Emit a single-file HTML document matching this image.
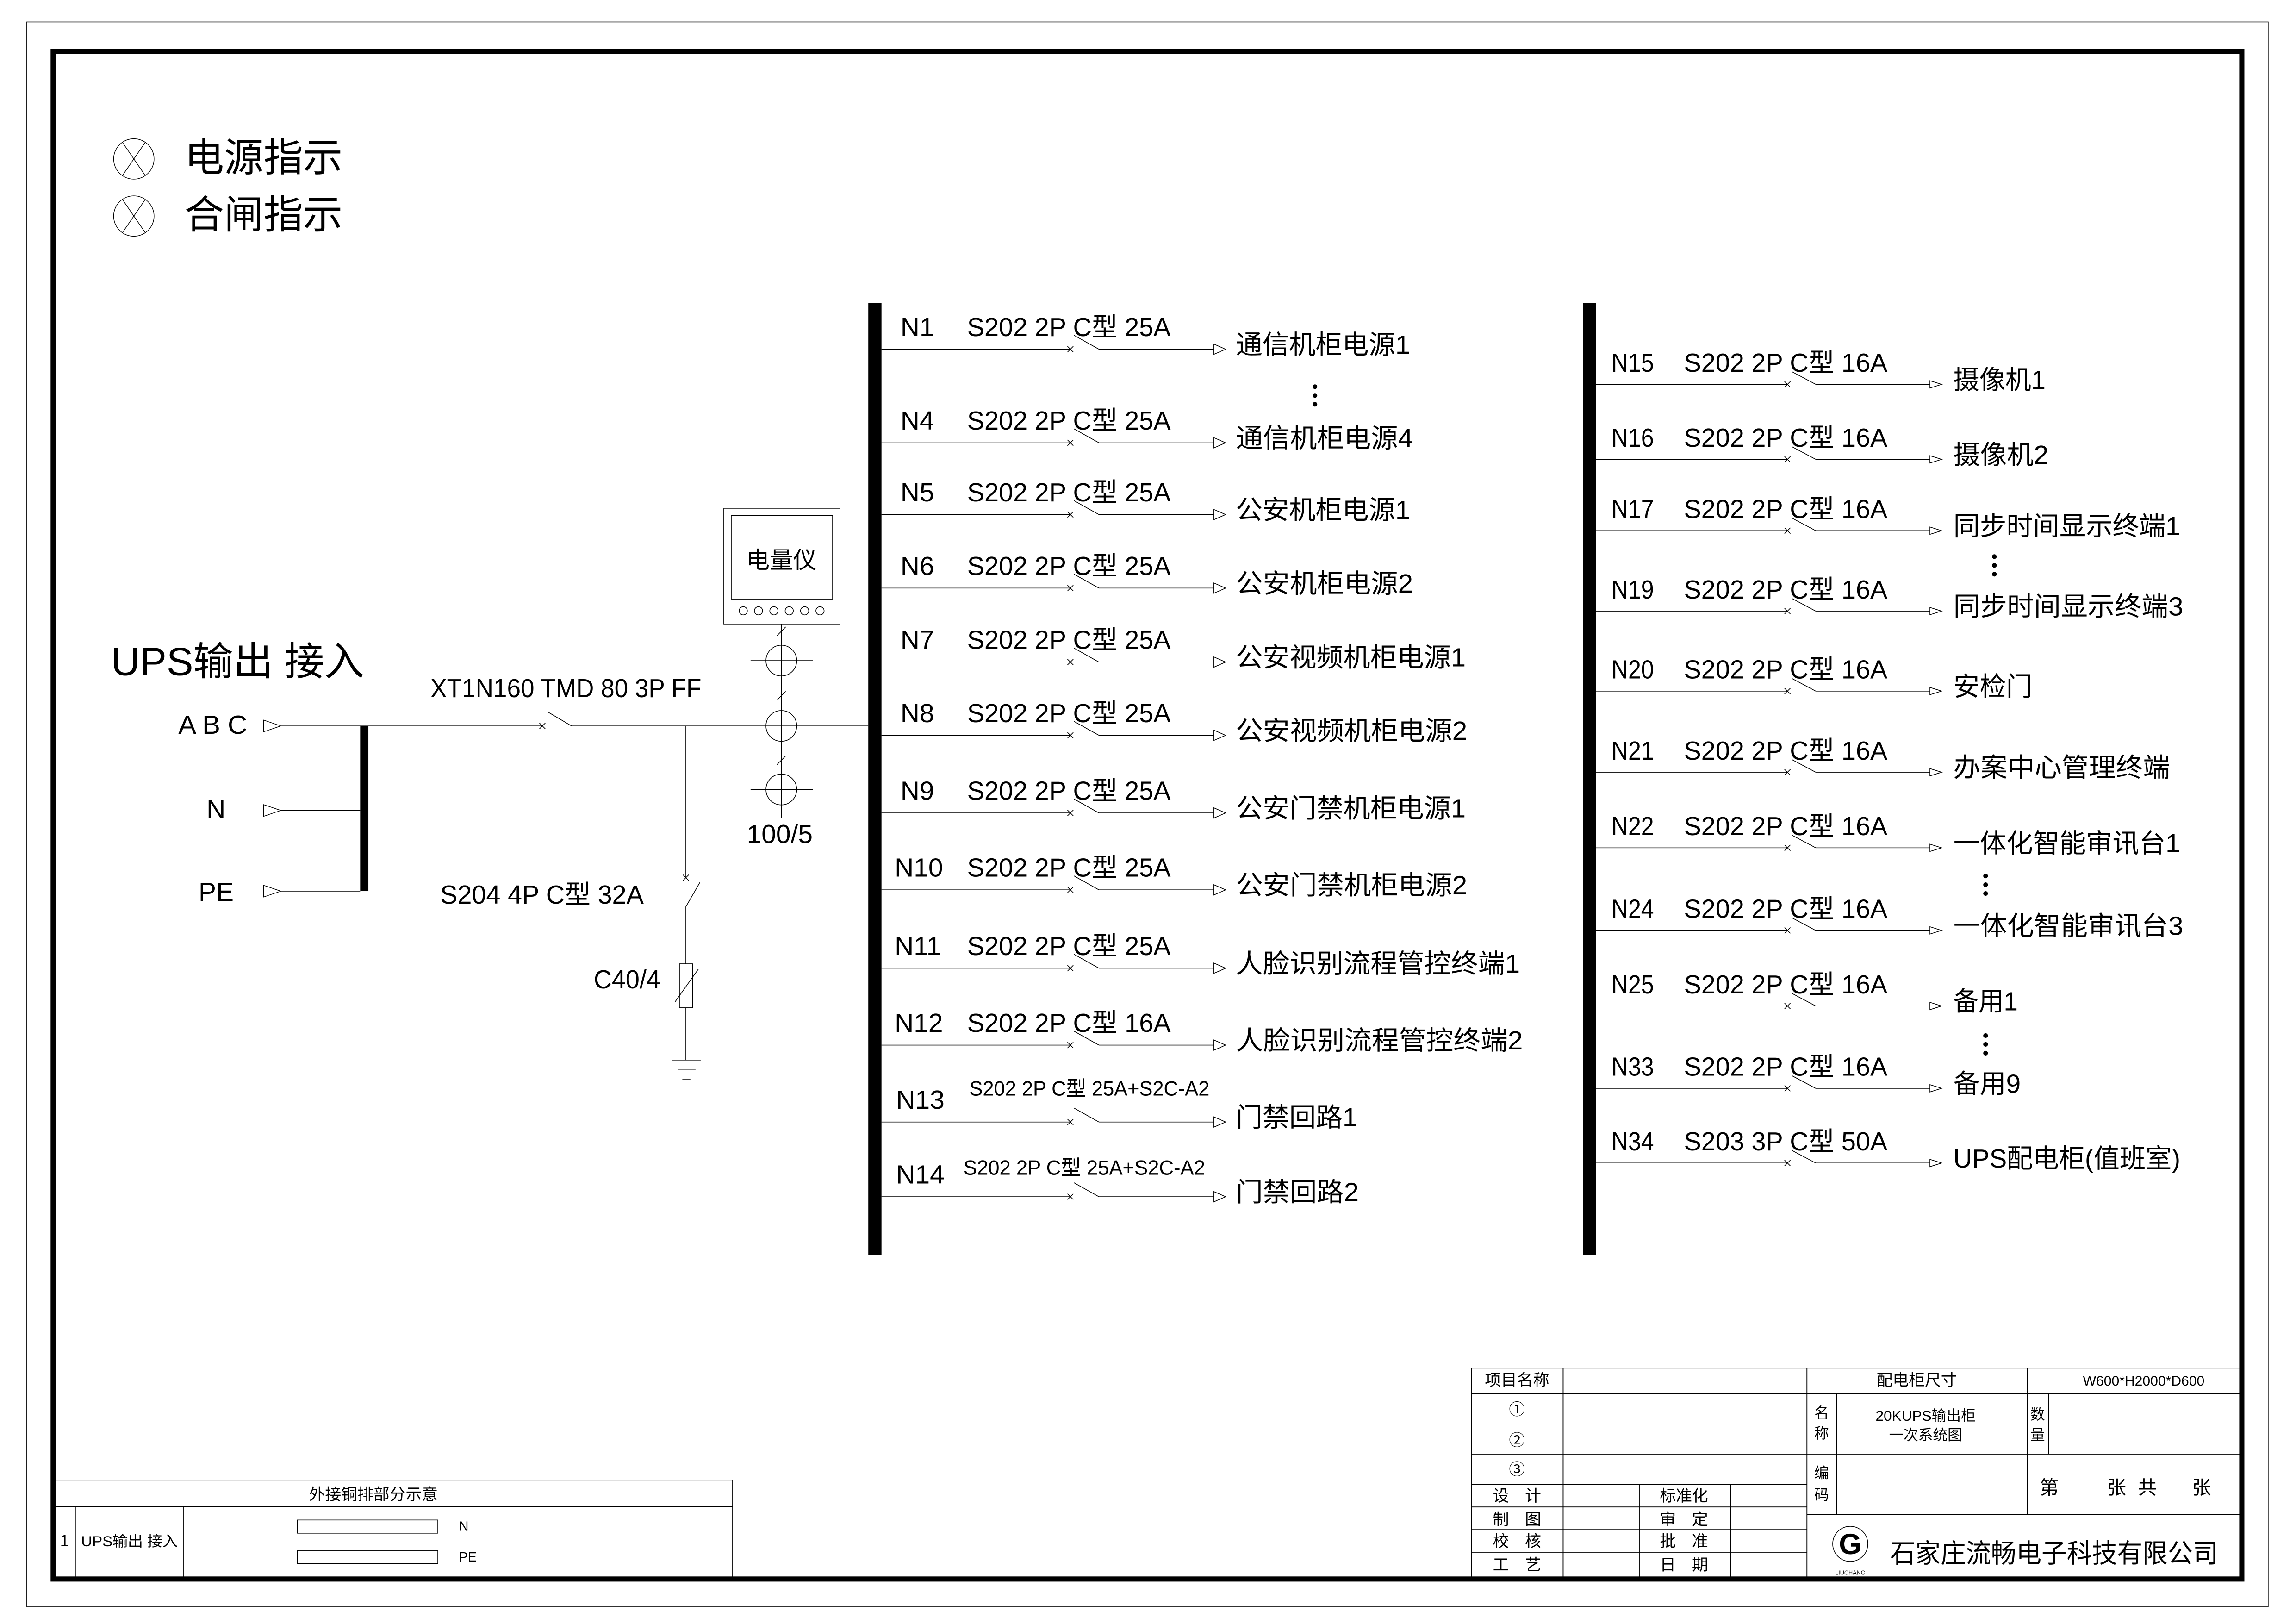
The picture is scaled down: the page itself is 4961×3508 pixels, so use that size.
<!DOCTYPE html>
<html><head><meta charset="utf-8"><style>
html,body{margin:0;padding:0;background:#fff;}
svg{display:block;}
text{font-family:"Liberation Sans","Noto Sans CJK SC",sans-serif;fill:#000;}
.l{font-size:18px;}
.lc{font-size:18px;}
.r{font-size:18px;}
.s{font-size:11px;}
</style></head><body>
<svg width="4961" height="3508" viewBox="0 0 1568 1108.7" preserveAspectRatio="none" xmlns="http://www.w3.org/2000/svg">
<rect width="1568" height="1109" fill="#fff"/>
<g fill="none" stroke="#000">
<rect x="18.3" y="15" width="1530.7" height="1082" stroke-width="0.5"/>
<rect x="36.3" y="35" width="1494.7" height="1043" stroke-width="3.5"/>
</g>
<g fill="none" stroke="#000" stroke-width="0.45">
<circle cx="91.4" cy="108.5" r="13.8"/><path d="M83.5 97 L99.3 120 M99.3 97 L83.5 120"/>
<circle cx="91.4" cy="147.5" r="13.8"/><path d="M83.5 136 L99.3 159 M99.3 136 L83.5 159"/>
</g>
<text x="126" y="117" style="font-size:27px">电源指示</text>
<text x="126" y="156" style="font-size:27px">合闸指示</text>

<rect x="593" y="207" width="9" height="650" fill="#000"/>
<rect x="1081" y="207" width="9" height="650" fill="#000"/>
<rect x="246" y="495.6" width="5.6" height="112.8" fill="#000"/>

<text x="75.8" y="461" style="font-size:27px" textLength="173" lengthAdjust="spacingAndGlyphs">UPS输出 接入</text>
<g fill="#fff" stroke="#000" stroke-width="0.45">
<path d="M180 491.6 L191.8 495.6 L180 499.6 Z"/>
<path d="M180 549.3 L191.8 553.3 L180 557.3 Z"/>
<path d="M180 604.4 L191.8 608.4 L180 612.4 Z"/>
</g>
<g fill="none" stroke="#000" stroke-width="0.5">
<path d="M191.8 495.6 L370.4 495.6 M368.4 493.6 L372.4 497.6 M372.4 493.6 L368.4 497.6 M374 486 L390.3 495.6 L593 495.6"/>
<path d="M191.8 553.3 L246 553.3 M191.8 608.4 L246 608.4"/>
<path d="M468.4 495.6 L468.4 599.2 M466.4 597.2 L470.4 601.2 M470.4 597.2 L466.4 601.2 M478 602.4 L468.4 619 L468.4 658 M468.4 688 L468.4 723.7"/>
<rect x="464" y="658" width="9" height="30"/>
<path d="M461 684 L477 661.5"/>
<path d="M459 723.7 L478.5 723.7 M463 730 L475 730 M466 736.7 L471.5 736.7"/>
<path d="M533.6 426 L533.6 558.5"/>
<circle cx="533.6" cy="451" r="10.5"/><circle cx="533.6" cy="495.6" r="10.5"/><circle cx="533.6" cy="539" r="10.5"/>
<path d="M512.6 451 L555.3 451 M512.6 539 L555.3 539"/>
<path d="M530.6 434 L536.6 428 M530.6 478 L536.6 472 M530.6 522 L536.6 516"/>
<rect x="494.3" y="347" width="79.3" height="79"/>
<rect x="499.4" y="352" width="69.2" height="57"/>
<circle cx="507.6" cy="417" r="2.8"/><circle cx="518" cy="417" r="2.8"/><circle cx="528.5" cy="417" r="2.8"/><circle cx="539" cy="417" r="2.8"/><circle cx="549.5" cy="417" r="2.8"/><circle cx="560" cy="417" r="2.8"/>
</g>
<text x="533.6" y="388" text-anchor="middle" style="font-size:16px">电量仪</text>
<text x="121.8" y="501" class="l" textLength="47" lengthAdjust="spacingAndGlyphs">A B C</text>
<text x="141" y="558.6" class="l">N</text>
<text x="135.6" y="615" class="l">PE</text>
<text x="294" y="476" class="l" textLength="185" lengthAdjust="spacingAndGlyphs">XT1N160 TMD 80 3P FF</text>
<text x="300.6" y="617" class="l" textLength="139" lengthAdjust="spacingAndGlyphs">S204 4P C型 32A</text>
<text x="405.5" y="674.7" class="l" textLength="45.5" lengthAdjust="spacingAndGlyphs">C40/4</text>
<text x="510" y="575.5" class="l" textLength="45" lengthAdjust="spacingAndGlyphs">100/5</text>

<g>
<g transform="translate(0,238.4)"><g fill="none" stroke="#000" stroke-width="0.5"><path d="M602 0 L731 0 M729 -2 L733 2 M729 2 L733 -2 M733.5 -9.5 L750.5 0 L829 0"/><path d="M829 -3.5 L837 0 L829 3.5 Z" fill="#fff"/></g>
<text x="615" y="-9" class="l">N1</text><text x="660.5" y="-9" class="l" textLength="139" lengthAdjust="spacingAndGlyphs">S202 2P C型 25A</text><text x="844" y="3" class="lc" textLength="119" lengthAdjust="spacingAndGlyphs">通信机柜电源1</text></g>
<g transform="translate(0,302.3)"><g fill="none" stroke="#000" stroke-width="0.5"><path d="M602 0 L731 0 M729 -2 L733 2 M729 2 L733 -2 M733.5 -9.5 L750.5 0 L829 0"/><path d="M829 -3.5 L837 0 L829 3.5 Z" fill="#fff"/></g>
<text x="615" y="-9" class="l">N4</text><text x="660.5" y="-9" class="l" textLength="139" lengthAdjust="spacingAndGlyphs">S202 2P C型 25A</text><text x="844" y="3" class="lc" textLength="121" lengthAdjust="spacingAndGlyphs">通信机柜电源4</text></g>
<g transform="translate(0,351.3)"><g fill="none" stroke="#000" stroke-width="0.5"><path d="M602 0 L731 0 M729 -2 L733 2 M729 2 L733 -2 M733.5 -9.5 L750.5 0 L829 0"/><path d="M829 -3.5 L837 0 L829 3.5 Z" fill="#fff"/></g>
<text x="615" y="-9" class="l">N5</text><text x="660.5" y="-9" class="l" textLength="139" lengthAdjust="spacingAndGlyphs">S202 2P C型 25A</text><text x="844" y="3" class="lc" textLength="119" lengthAdjust="spacingAndGlyphs">公安机柜电源1</text></g>
<g transform="translate(0,401.5)"><g fill="none" stroke="#000" stroke-width="0.5"><path d="M602 0 L731 0 M729 -2 L733 2 M729 2 L733 -2 M733.5 -9.5 L750.5 0 L829 0"/><path d="M829 -3.5 L837 0 L829 3.5 Z" fill="#fff"/></g>
<text x="615" y="-9" class="l">N6</text><text x="660.5" y="-9" class="l" textLength="139" lengthAdjust="spacingAndGlyphs">S202 2P C型 25A</text><text x="844" y="3" class="lc" textLength="121" lengthAdjust="spacingAndGlyphs">公安机柜电源2</text></g>
<g transform="translate(0,452)"><g fill="none" stroke="#000" stroke-width="0.5"><path d="M602 0 L731 0 M729 -2 L733 2 M729 2 L733 -2 M733.5 -9.5 L750.5 0 L829 0"/><path d="M829 -3.5 L837 0 L829 3.5 Z" fill="#fff"/></g>
<text x="615" y="-9" class="l">N7</text><text x="660.5" y="-9" class="l" textLength="139" lengthAdjust="spacingAndGlyphs">S202 2P C型 25A</text><text x="844" y="3" class="lc" textLength="157" lengthAdjust="spacingAndGlyphs">公安视频机柜电源1</text></g>
<g transform="translate(0,502)"><g fill="none" stroke="#000" stroke-width="0.5"><path d="M602 0 L731 0 M729 -2 L733 2 M729 2 L733 -2 M733.5 -9.5 L750.5 0 L829 0"/><path d="M829 -3.5 L837 0 L829 3.5 Z" fill="#fff"/></g>
<text x="615" y="-9" class="l">N8</text><text x="660.5" y="-9" class="l" textLength="139" lengthAdjust="spacingAndGlyphs">S202 2P C型 25A</text><text x="844" y="3" class="lc" textLength="158" lengthAdjust="spacingAndGlyphs">公安视频机柜电源2</text></g>
<g transform="translate(0,555)"><g fill="none" stroke="#000" stroke-width="0.5"><path d="M602 0 L731 0 M729 -2 L733 2 M729 2 L733 -2 M733.5 -9.5 L750.5 0 L829 0"/><path d="M829 -3.5 L837 0 L829 3.5 Z" fill="#fff"/></g>
<text x="615" y="-9" class="l">N9</text><text x="660.5" y="-9" class="l" textLength="139" lengthAdjust="spacingAndGlyphs">S202 2P C型 25A</text><text x="844" y="3" class="lc" textLength="157" lengthAdjust="spacingAndGlyphs">公安门禁机柜电源1</text></g>
<g transform="translate(0,607.5)"><g fill="none" stroke="#000" stroke-width="0.5"><path d="M602 0 L731 0 M729 -2 L733 2 M729 2 L733 -2 M733.5 -9.5 L750.5 0 L829 0"/><path d="M829 -3.5 L837 0 L829 3.5 Z" fill="#fff"/></g>
<text x="611" y="-9" class="l">N10</text><text x="660.5" y="-9" class="l" textLength="139" lengthAdjust="spacingAndGlyphs">S202 2P C型 25A</text><text x="844" y="3" class="lc" textLength="158" lengthAdjust="spacingAndGlyphs">公安门禁机柜电源2</text></g>
<g transform="translate(0,661)"><g fill="none" stroke="#000" stroke-width="0.5"><path d="M602 0 L731 0 M729 -2 L733 2 M729 2 L733 -2 M733.5 -9.5 L750.5 0 L829 0"/><path d="M829 -3.5 L837 0 L829 3.5 Z" fill="#fff"/></g>
<text x="611" y="-9" class="l">N11</text><text x="660.5" y="-9" class="l" textLength="139" lengthAdjust="spacingAndGlyphs">S202 2P C型 25A</text><text x="844" y="3" class="lc" textLength="194" lengthAdjust="spacingAndGlyphs">人脸识别流程管控终端1</text></g>
<g transform="translate(0,713.5)"><g fill="none" stroke="#000" stroke-width="0.5"><path d="M602 0 L731 0 M729 -2 L733 2 M729 2 L733 -2 M733.5 -9.5 L750.5 0 L829 0"/><path d="M829 -3.5 L837 0 L829 3.5 Z" fill="#fff"/></g>
<text x="611" y="-9" class="l">N12</text><text x="660.5" y="-9" class="l" textLength="139" lengthAdjust="spacingAndGlyphs">S202 2P C型 16A</text><text x="844" y="3" class="lc" textLength="196" lengthAdjust="spacingAndGlyphs">人脸识别流程管控终端2</text></g>
<g transform="translate(0,766)"><g fill="none" stroke="#000" stroke-width="0.5"><path d="M602 0 L731 0 M729 -2 L733 2 M729 2 L733 -2 M733.5 -9.5 L750.5 0 L829 0"/><path d="M829 -3.5 L837 0 L829 3.5 Z" fill="#fff"/></g>
<text x="612" y="-9" class="l">N13</text><text x="662" y="-18" style="font-size:14px" textLength="164" lengthAdjust="spacingAndGlyphs">S202 2P C型 25A+S2C-A2</text><text x="844" y="3" class="lc" textLength="83" lengthAdjust="spacingAndGlyphs">门禁回路1</text></g>
<g transform="translate(0,817)"><g fill="none" stroke="#000" stroke-width="0.5"><path d="M602 0 L731 0 M729 -2 L733 2 M729 2 L733 -2 M733.5 -9.5 L750.5 0 L829 0"/><path d="M829 -3.5 L837 0 L829 3.5 Z" fill="#fff"/></g>
<text x="612" y="-9" class="l">N14</text><text x="658" y="-15" style="font-size:14px" textLength="165" lengthAdjust="spacingAndGlyphs">S202 2P C型 25A+S2C-A2</text><text x="844" y="3" class="lc" textLength="84" lengthAdjust="spacingAndGlyphs">门禁回路2</text></g>
</g>

<g fill="#000">
<circle cx="898" cy="264" r="1.6"/><circle cx="898" cy="270" r="1.6"/><circle cx="898" cy="276" r="1.6"/>
<circle cx="1362" cy="380" r="1.6"/><circle cx="1362" cy="386" r="1.6"/><circle cx="1362" cy="392" r="1.6"/>
<circle cx="1356" cy="598" r="1.6"/><circle cx="1356" cy="604" r="1.6"/><circle cx="1356" cy="610" r="1.6"/>
<circle cx="1356" cy="707" r="1.6"/><circle cx="1356" cy="713" r="1.6"/><circle cx="1356" cy="719" r="1.6"/>
</g>

<g>
<g transform="translate(0,262.4)"><g fill="none" stroke="#000" stroke-width="0.5"><path d="M1090 0 L1220.7 0 M1218.7 -2 L1222.7 2 M1218.7 2 L1222.7 -2 M1224 -8.5 L1240 0 L1318 0"/><path d="M1318 -2.5 L1326 0 L1318 2.5 Z" fill="#fff"/></g>
<text x="1100.5" y="-8.6" class="r" textLength="29" lengthAdjust="spacingAndGlyphs">N15</text><text x="1150" y="-8.6" class="r" textLength="139" lengthAdjust="spacingAndGlyphs">S202 2P C型 16A</text><text x="1334" y="3" class="r" textLength="63" lengthAdjust="spacingAndGlyphs">摄像机1</text></g>
<g transform="translate(0,313.6)"><g fill="none" stroke="#000" stroke-width="0.5"><path d="M1090 0 L1220.7 0 M1218.7 -2 L1222.7 2 M1218.7 2 L1222.7 -2 M1224 -8.5 L1240 0 L1318 0"/><path d="M1318 -2.5 L1326 0 L1318 2.5 Z" fill="#fff"/></g>
<text x="1100.5" y="-8.6" class="r" textLength="29" lengthAdjust="spacingAndGlyphs">N16</text><text x="1150" y="-8.6" class="r" textLength="139" lengthAdjust="spacingAndGlyphs">S202 2P C型 16A</text><text x="1334" y="3" class="r" textLength="65" lengthAdjust="spacingAndGlyphs">摄像机2</text></g>
<g transform="translate(0,362.3)"><g fill="none" stroke="#000" stroke-width="0.5"><path d="M1090 0 L1220.7 0 M1218.7 -2 L1222.7 2 M1218.7 2 L1222.7 -2 M1224 -8.5 L1240 0 L1318 0"/><path d="M1318 -2.5 L1326 0 L1318 2.5 Z" fill="#fff"/></g>
<text x="1100.5" y="-8.6" class="r" textLength="29" lengthAdjust="spacingAndGlyphs">N17</text><text x="1150" y="-8.6" class="r" textLength="139" lengthAdjust="spacingAndGlyphs">S202 2P C型 16A</text><text x="1334" y="3" class="r" textLength="155" lengthAdjust="spacingAndGlyphs">同步时间显示终端1</text></g>
<g transform="translate(0,417.2)"><g fill="none" stroke="#000" stroke-width="0.5"><path d="M1090 0 L1220.7 0 M1218.7 -2 L1222.7 2 M1218.7 2 L1222.7 -2 M1224 -8.5 L1240 0 L1318 0"/><path d="M1318 -2.5 L1326 0 L1318 2.5 Z" fill="#fff"/></g>
<text x="1100.5" y="-8.6" class="r" textLength="29" lengthAdjust="spacingAndGlyphs">N19</text><text x="1150" y="-8.6" class="r" textLength="139" lengthAdjust="spacingAndGlyphs">S202 2P C型 16A</text><text x="1334" y="3" class="r" textLength="157" lengthAdjust="spacingAndGlyphs">同步时间显示终端3</text></g>
<g transform="translate(0,471.8)"><g fill="none" stroke="#000" stroke-width="0.5"><path d="M1090 0 L1220.7 0 M1218.7 -2 L1222.7 2 M1218.7 2 L1222.7 -2 M1224 -8.5 L1240 0 L1318 0"/><path d="M1318 -2.5 L1326 0 L1318 2.5 Z" fill="#fff"/></g>
<text x="1100.5" y="-8.6" class="r" textLength="29" lengthAdjust="spacingAndGlyphs">N20</text><text x="1150" y="-8.6" class="r" textLength="139" lengthAdjust="spacingAndGlyphs">S202 2P C型 16A</text><text x="1334" y="3" class="r" textLength="54" lengthAdjust="spacingAndGlyphs">安检门</text></g>
<g transform="translate(0,527.2)"><g fill="none" stroke="#000" stroke-width="0.5"><path d="M1090 0 L1220.7 0 M1218.7 -2 L1222.7 2 M1218.7 2 L1222.7 -2 M1224 -8.5 L1240 0 L1318 0"/><path d="M1318 -2.5 L1326 0 L1318 2.5 Z" fill="#fff"/></g>
<text x="1100.5" y="-8.6" class="r" textLength="29" lengthAdjust="spacingAndGlyphs">N21</text><text x="1150" y="-8.6" class="r" textLength="139" lengthAdjust="spacingAndGlyphs">S202 2P C型 16A</text><text x="1334" y="3" class="r" textLength="148" lengthAdjust="spacingAndGlyphs">办案中心管理终端</text></g>
<g transform="translate(0,578.8)"><g fill="none" stroke="#000" stroke-width="0.5"><path d="M1090 0 L1220.7 0 M1218.7 -2 L1222.7 2 M1218.7 2 L1222.7 -2 M1224 -8.5 L1240 0 L1318 0"/><path d="M1318 -2.5 L1326 0 L1318 2.5 Z" fill="#fff"/></g>
<text x="1100.5" y="-8.6" class="r" textLength="29" lengthAdjust="spacingAndGlyphs">N22</text><text x="1150" y="-8.6" class="r" textLength="139" lengthAdjust="spacingAndGlyphs">S202 2P C型 16A</text><text x="1334" y="3" class="r" textLength="155" lengthAdjust="spacingAndGlyphs">一体化智能审讯台1</text></g>
<g transform="translate(0,635.2)"><g fill="none" stroke="#000" stroke-width="0.5"><path d="M1090 0 L1220.7 0 M1218.7 -2 L1222.7 2 M1218.7 2 L1222.7 -2 M1224 -8.5 L1240 0 L1318 0"/><path d="M1318 -2.5 L1326 0 L1318 2.5 Z" fill="#fff"/></g>
<text x="1100.5" y="-8.6" class="r" textLength="29" lengthAdjust="spacingAndGlyphs">N24</text><text x="1150" y="-8.6" class="r" textLength="139" lengthAdjust="spacingAndGlyphs">S202 2P C型 16A</text><text x="1334" y="3" class="r" textLength="157" lengthAdjust="spacingAndGlyphs">一体化智能审讯台3</text></g>
<g transform="translate(0,686.8)"><g fill="none" stroke="#000" stroke-width="0.5"><path d="M1090 0 L1220.7 0 M1218.7 -2 L1222.7 2 M1218.7 2 L1222.7 -2 M1224 -8.5 L1240 0 L1318 0"/><path d="M1318 -2.5 L1326 0 L1318 2.5 Z" fill="#fff"/></g>
<text x="1100.5" y="-8.6" class="r" textLength="29" lengthAdjust="spacingAndGlyphs">N25</text><text x="1150" y="-8.6" class="r" textLength="139" lengthAdjust="spacingAndGlyphs">S202 2P C型 16A</text><text x="1334" y="3" class="r" textLength="44" lengthAdjust="spacingAndGlyphs">备用1</text></g>
<g transform="translate(0,743)"><g fill="none" stroke="#000" stroke-width="0.5"><path d="M1090 0 L1220.7 0 M1218.7 -2 L1222.7 2 M1218.7 2 L1222.7 -2 M1224 -8.5 L1240 0 L1318 0"/><path d="M1318 -2.5 L1326 0 L1318 2.5 Z" fill="#fff"/></g>
<text x="1100.5" y="-8.6" class="r" textLength="29" lengthAdjust="spacingAndGlyphs">N33</text><text x="1150" y="-8.6" class="r" textLength="139" lengthAdjust="spacingAndGlyphs">S202 2P C型 16A</text><text x="1334" y="3" class="r" textLength="46" lengthAdjust="spacingAndGlyphs">备用9</text></g>
<g transform="translate(0,794)"><g fill="none" stroke="#000" stroke-width="0.5"><path d="M1090 0 L1220.7 0 M1218.7 -2 L1222.7 2 M1218.7 2 L1222.7 -2 M1224 -8.5 L1240 0 L1318 0"/><path d="M1318 -2.5 L1326 0 L1318 2.5 Z" fill="#fff"/></g>
<text x="1100.5" y="-8.6" class="r" textLength="29" lengthAdjust="spacingAndGlyphs">N34</text><text x="1150" y="-8.6" class="r" textLength="139" lengthAdjust="spacingAndGlyphs">S203 3P C型 50A</text><text x="1334" y="3" class="r" textLength="155" lengthAdjust="spacingAndGlyphs">UPS配电柜(值班室)</text></g>
</g>

<g fill="none" stroke="#000" stroke-width="0.5">
<path d="M36 1010.5 L500.3 1010.5 L500.3 1078 M36 1028.5 L500.3 1028.5 M51.5 1028.5 L51.5 1078 M125.2 1028.5 L125.2 1078"/>
<rect x="203" y="1037.7" width="96" height="9"/>
<rect x="203" y="1058.5" width="96" height="9"/>
</g>
<text x="255" y="1024" class="s" text-anchor="middle">外接铜排部分示意</text>
<text x="41" y="1055.6" class="s">1</text>
<text x="55.4" y="1055.6" style="font-size:10px" textLength="66" lengthAdjust="spacingAndGlyphs">UPS输出 接入</text>
<text x="313.5" y="1045" style="font-size:9px">N</text>
<text x="313.5" y="1066" style="font-size:9px">PE</text>

<g fill="none" stroke="#000" stroke-width="0.6">
<path d="M1005 934 L1531 934 M1005 934 L1005 1078"/>
<path d="M1005 951.6 L1531 951.6 M1005 972.2 L1234 972.2 M1005 992.7 L1531 992.7 M1005 1013.3 L1234 1013.3 M1005 1028.8 L1234 1028.8 M1005 1044.3 L1234 1044.3 M1005 1059.7 L1234 1059.7 M1234 1034 L1531 1034"/>
<path d="M1067.5 934 L1067.5 1078 M1119.5 1013.3 L1119.5 1078 M1182 1013.3 L1182 1078 M1234 934 L1234 1078 M1254.4 951.6 L1254.4 1034 M1384.6 934 L1384.6 1034 M1399.2 951.6 L1399.2 992.7"/>
</g>
<g style="font-size:11px" text-anchor="middle">
<text x="1036" y="946">项目名称</text>
<text x="1309" y="946">配电柜尺寸</text>
<text x="1464" y="946" style="font-size:9.5px" textLength="83" lengthAdjust="spacingAndGlyphs">W600*H2000*D600</text>
<text x="1036" y="966">①</text>
<text x="1036" y="987">②</text>
<text x="1036" y="1007">③</text>
<text x="1036" y="1025">设　计</text>
<text x="1036" y="1041">制　图</text>
<text x="1036" y="1056">校　核</text>
<text x="1036" y="1072">工　艺</text>
<text x="1150" y="1025">标准化</text>
<text x="1150" y="1041">审　定</text>
<text x="1150" y="1056">批　准</text>
<text x="1150" y="1072">日　期</text>
<text x="1244" y="968" style="font-size:10px">名</text>
<text x="1244" y="982" style="font-size:10px">称</text>
<text x="1391.6" y="969" style="font-size:10px">数</text>
<text x="1391.6" y="983" style="font-size:10px">量</text>
<text x="1244" y="1009" style="font-size:10px">编</text>
<text x="1244" y="1024" style="font-size:10px">码</text>
<text x="1315" y="970" style="font-size:10px">20KUPS输出柜</text>
<text x="1315" y="983" style="font-size:10px">一次系统图</text>
</g>
<g style="font-size:13px">
<text x="1393" y="1020">第</text>
<text x="1439" y="1020">张</text>
<text x="1460" y="1020">共</text>
<text x="1497" y="1020">张</text>
</g>
<circle cx="1263.6" cy="1054" r="12" fill="none" stroke="#000" stroke-width="0.5"/>
<text x="1263.6" y="1061" text-anchor="middle" style="font-size:20px;font-weight:bold">G</text>
<text x="1263.6" y="1075" text-anchor="middle" style="font-size:4px">LIUCHANG</text>
<text x="1290.8" y="1066.7" style="font-size:18px" textLength="224" lengthAdjust="spacingAndGlyphs">石家庄流畅电子科技有限公司</text>
</svg>
</body></html>
